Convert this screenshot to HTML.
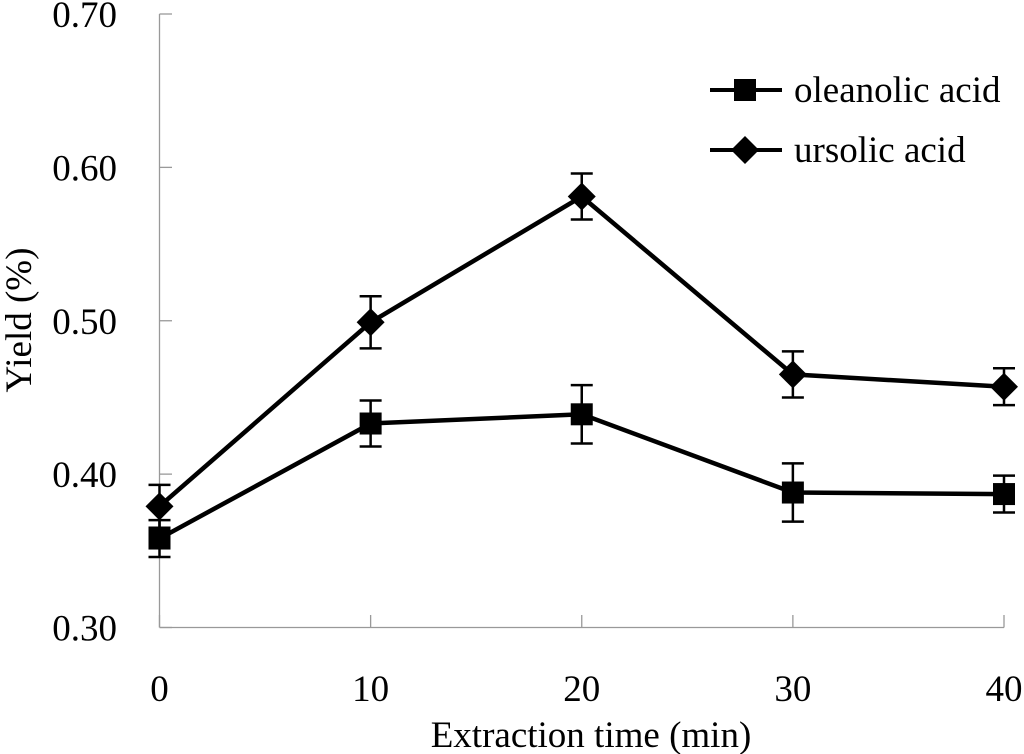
<!DOCTYPE html>
<html><head><meta charset="utf-8"><style>
body{margin:0;background:#fff}
svg{display:block}
text{font-family:"Liberation Serif","Times New Roman",serif}
</style></head><body>
<svg id="chart" width="1024" height="754" viewBox="0 0 1024 754">
<g id="axes"></g>
<g id="series"></g>
<g>
<g>
<line x1="710" y1="90" x2="782" y2="90" stroke="#000" stroke-width="4"/>
<rect x="734" y="79" width="22" height="22" fill="#000"/>
<text x="794" y="102" font-size="37" font-family="Liberation Serif, serif">oleanolic acid</text></g>
<g>
<line x1="710" y1="150" x2="782" y2="150" stroke="#000" stroke-width="4"/>
<polygon points="745,136 759,150 745,164 731,150" fill="#000"/>
<text x="794" y="162" font-size="37" font-family="Liberation Serif, serif">ursolic acid</text></g>
</g>
<text x="591" y="747" font-size="37" font-family="Liberation Serif, serif" text-anchor="middle">Extraction time (min)</text>
<text transform="translate(31,320) rotate(-90)" font-size="37" font-family="Liberation Serif, serif" text-anchor="middle">Yield (%)</text>
</svg>
<script>
const categories=[0,10,20,30,40];
const yTicks=[0.30,0.40,0.50,0.60,0.70];
const yTickLabels=["0.30","0.40","0.50","0.60","0.70"];
const oleanolic=[0.358,0.433,0.439,0.388,0.387];
const oleanolicErr=[0.012,0.015,0.019,0.019,0.012];
const ursolic=[0.379,0.499,0.581,0.465,0.457];
const ursolicErr=[0.014,0.017,0.015,0.015,0.012];
const NS="http://www.w3.org/2000/svg";
const X=v=>159.5+(v-0)*(1004-159.5)/40;
const Y=v=>627.5-(v-0.3)*(627.5-14)/0.4;
function mk(tag,attrs,parent){const e=document.createElementNS(NS,tag);for(const k in attrs)e.setAttribute(k,attrs[k]);parent.appendChild(e);return e;}
const ax=document.getElementById('axes');
let l=mk('line',{x1:159.5,y1:14,x2:159.5,y2:627.5,stroke:'#999','stroke-width':1.3},ax);


l=mk('line',{x1:159.5,y1:627.5,x2:1004,y2:627.5,stroke:'#999','stroke-width':1.3},ax);


yTicks.forEach((t,i)=>{
 const tk=mk('line',{x1:159.5,y1:Y(t),x2:172,y2:Y(t),stroke:'#999','stroke-width':1.3},ax);
 
 
 const tx=mk('text',{x:117,y:Y(t)+13,'font-size':37,'font-family':'Liberation Serif, serif','text-anchor':'end'},ax);
 tx.textContent=yTickLabels[i];
 
 
});
categories.forEach(c=>{
 const tk=mk('line',{x1:X(c),y1:627.5,x2:X(c),y2:615,stroke:'#999','stroke-width':1.3},ax);
 
 
 const tx=mk('text',{x:X(c),y:701,'font-size':37,'font-family':'Liberation Serif, serif','text-anchor':'middle'},ax);
 tx.textContent=String(c);
 
 
});
const sg=document.getElementById('series');
function draw(vals,errs,shape,name){
 const g=mk('g',{},sg);
 
 
 const p=mk('polyline',{points:vals.map((v,i)=>X(categories[i])+','+Y(v)).join(' '),fill:'none',stroke:'#000','stroke-width':4.5,'stroke-linejoin':'miter'},g);
 
 
 vals.forEach((v,i)=>{
  const x=X(categories[i]),t=Y(v+errs[i]),b=Y(v-errs[i]);
  const e=mk('path',{d:`M${x},${t}V${b}M${x-11},${t}H${x+11}M${x-11},${b}H${x+11}`,stroke:'#000','stroke-width':2.5,fill:'none'},g);
  
  
  let m;
  if(shape==='square') m=mk('rect',{x:x-11,y:Y(v)-11,width:22,height:22,fill:'#000'},g);
  else {const y=Y(v);m=mk('polygon',{points:`${x},${y-14} ${x+14},${y} ${x},${y+14} ${x-14},${y}`,fill:'#000'},g);}
  
  
 });
}
draw(ursolic,ursolicErr,'diamond','ursolic');
draw(oleanolic,oleanolicErr,'square','oleanolic');
</script>
</body></html>
